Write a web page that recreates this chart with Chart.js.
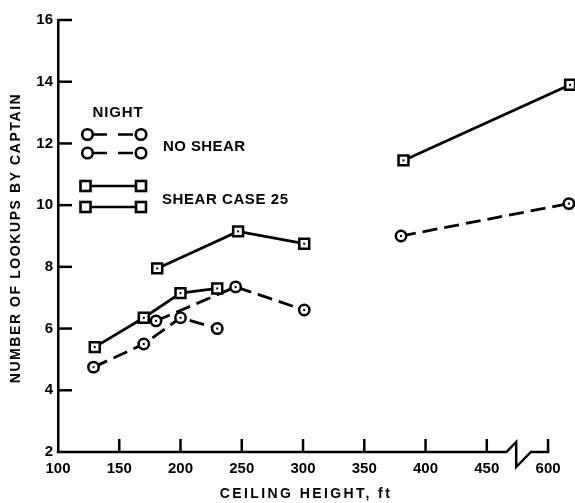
<!DOCTYPE html>
<html>
<head>
<meta charset="utf-8">
<script src="https://cdn.jsdelivr.net/npm/chart.js@4.4.0/dist/chart.umd.min.js"></script>
<style>
  html, body { margin: 0; padding: 0; background: #fff; }
  canvas { display: block; }
</style>
</head>
<body>
<canvas id="lookups-chart" width="575" height="503"></canvas>
<script>
// ceiling height (ft) / number of lookups
const shearLowCeiling = [130, 170, 200, 230];
const shearLowLookups = [5.4, 6.35, 7.15, 7.3];
const shearMidCeiling = [181, 247, 301];
const shearMidLookups = [7.95, 9.15, 8.75];
const shearHighCeiling = [382, 618];
const shearHighLookups = [11.45, 13.9];

const noShearLowCeiling = [129, 170, 200, 230];
const noShearLowLookups = [4.75, 5.5, 6.35, 6.0];
const noShearMidCeiling = [180, 245, 301];
const noShearMidLookups = [6.25, 7.35, 6.6];
const noShearHighCeiling = [380, 617];
const noShearHighLookups = [9.0, 10.05];

const xTickValues = [100, 150, 200, 250, 300, 350, 400, 450, 600];
const yTickValues = [2, 4, 6, 8, 10, 12, 14, 16];

// x axis is broken between 450 and 600
const BREAK_FROM = 450;
const BREAK_SKIP = 100;
function toAxis(x) { return x > BREAK_FROM ? x - BREAK_SKIP : x; }
function points(xs, ys) { return xs.map((x, i) => ({ x: toAxis(x), y: ys[i] })); }

const FONT = "'Liberation Sans', Arial, Helvetica, sans-serif";

function shearSet(xs, ys) {
    return {
        data: points(xs, ys),
        showLine: true,
        borderColor: '#000',
        borderWidth: 2.8,
        pointStyle: 'rect',
        pointRadius: 7,
        pointBorderWidth: 2.5,
        pointBackgroundColor: '#fff',
        pointBorderColor: '#000',
        clip: false
    };
}

function noShearSet(xs, ys) {
    return {
        data: points(xs, ys),
        showLine: true,
        borderColor: '#000',
        borderWidth: 2.8,
        borderDash: [15, 7],
        pointStyle: 'circle',
        pointRadius: 5.2,
        pointBorderWidth: 2.5,
        pointBackgroundColor: '#fff',
        pointBorderColor: '#000',
        clip: false
    };
}

function spacedText(ctx, text, x, y, width) {
    ctx.letterSpacing = '0px';
    const plain = ctx.measureText(text).width;
    const gap = text.length > 1 ? (width - plain) / (text.length - 1) : 0;
    ctx.letterSpacing = gap + 'px';
    ctx.fillText(text, x, y);
    ctx.letterSpacing = '0px';
}

const figureDecor = {
    id: 'figureDecor',
    beforeDatasetsDraw(chart) {
        const ctx = chart.ctx;
        const xs = chart.scales.x;
        const ys = chart.scales.y;
        const area = chart.chartArea;
        const axisEnd = xs.getPixelForValue(toAxis(xTickValues[xTickValues.length - 1]));
        ctx.save();
        ctx.strokeStyle = '#000';
        ctx.lineWidth = 2.5;

        // inward tick marks
        yTickValues.forEach(v => {
            if (v === ys.min) return;
            const py = ys.getPixelForValue(v);
            ctx.beginPath();
            ctx.moveTo(area.left, py);
            ctx.lineTo(area.left + 14, py);
            ctx.stroke();
        });
        xTickValues.forEach(v => {
            if (v === xs.min) return;
            const px = xs.getPixelForValue(toAxis(v));
            ctx.beginPath();
            ctx.moveTo(px, area.bottom);
            ctx.lineTo(px, area.bottom - 13);
            ctx.stroke();
        });

        // bottom axis with the break symbol
        const b = area.bottom;
        ctx.beginPath();
        ctx.moveTo(area.left - 1.25, b);
        ctx.lineTo(xs.getPixelForValue(466), b);
        ctx.lineTo(xs.getPixelForValue(474), b - 10);
        ctx.lineTo(xs.getPixelForValue(474), b + 15);
        ctx.lineTo(xs.getPixelForValue(486), b);
        ctx.lineTo(axisEnd + 1.25, b);
        ctx.stroke();
        ctx.restore();
    },
    afterDatasetsDraw(chart) {
        const ctx = chart.ctx;
        ctx.save();
        ctx.fillStyle = '#000';
        // centre dots in the symbols
        chart.data.datasets.forEach((ds, i) => {
            chart.getDatasetMeta(i).data.forEach(pt => {
                ctx.fillRect(pt.x - 1, pt.y - 1, 2, 2);
            });
        });

        // axis titles
        ctx.font = 'bold 14px ' + FONT;
        ctx.textAlign = 'center';
        ctx.textBaseline = 'middle';
        spacedText(ctx, 'CEILING HEIGHT, ft', 306, 494, 170);
        ctx.save();
        ctx.translate(16, 238);
        ctx.rotate(-Math.PI / 2);
        spacedText(ctx, 'NUMBER OF LOOKUPS BY CAPTAIN', 0, 0, 289);
        ctx.restore();

        // legend
        ctx.font = 'bold 15px ' + FONT;
        ctx.textAlign = 'center';
        spacedText(ctx, 'NIGHT', 118, 113, 50);
        ctx.textAlign = 'left';
        spacedText(ctx, 'NO SHEAR', 163, 147, 82);
        spacedText(ctx, 'SHEAR CASE 25', 162, 200, 126);

        ctx.strokeStyle = '#000';
        ctx.lineWidth = 2.6;
        [134.5, 153].forEach(ry => {
            ctx.setLineDash([15, 11]);
            ctx.beginPath();
            ctx.moveTo(92, ry);
            ctx.lineTo(136, ry);
            ctx.stroke();
            ctx.setLineDash([]);
            [87.5, 141].forEach(cx => {
                ctx.beginPath();
                ctx.arc(cx, ry, 5.3, 0, Math.PI * 2);
                ctx.fillStyle = '#fff';
                ctx.fill();
                ctx.stroke();
            });
        });
        [186, 207].forEach(ry => {
            ctx.beginPath();
            ctx.moveTo(90, ry);
            ctx.lineTo(136, ry);
            ctx.stroke();
            [85.5, 141].forEach(cx => {
                ctx.fillStyle = '#fff';
                ctx.fillRect(cx - 5, ry - 5, 10, 10);
                ctx.strokeRect(cx - 5, ry - 5, 10, 10);
            });
        });
        ctx.restore();
    }
};

new Chart(document.getElementById('lookups-chart').getContext('2d'), {
    type: 'scatter',
    data: {
        datasets: [
            shearSet(shearLowCeiling, shearLowLookups),
            shearSet(shearMidCeiling, shearMidLookups),
            shearSet(shearHighCeiling, shearHighLookups),
            noShearSet(noShearLowCeiling, noShearLowLookups),
            noShearSet(noShearMidCeiling, noShearMidLookups),
            noShearSet(noShearHighCeiling, noShearHighLookups)
        ]
    },
    options: {
        responsive: false,
        devicePixelRatio: 1,
        animation: false,
        layout: {
            autoPadding: false,
            padding: { left: 0, right: 0, top: 20, bottom: 0 }
        },
        scales: {
            x: {
                type: 'linear',
                min: 100,
                max: 522,
                afterBuildTicks(scale) {
                    scale.ticks = xTickValues.map(v => ({ value: toAxis(v) }));
                },
                afterFit(scale) {
                    scale.height = 51;
                    scale.paddingLeft = 0;
                    scale.paddingRight = 0;
                },
                grid: { display: false, drawTicks: false },
                border: { display: false },
                ticks: {
                    padding: 8,
                    maxRotation: 0,
                    autoSkip: false,
                    color: '#000',
                    font: { family: FONT, size: 15, weight: 'bold' },
                    callback: function(value) {
                        const real = xTickValues.find(v => toAxis(v) === value);
                        return real === undefined ? '' : String(real);
                    }
                }
            },
            y: {
                min: 2,
                max: 16,
                afterBuildTicks(scale) {
                    scale.ticks = yTickValues.map(v => ({ value: v }));
                },
                afterFit(scale) {
                    scale.width = 58;
                    scale.paddingTop = 0;
                    scale.paddingBottom = 0;
                },
                grid: { display: false, drawTicks: false },
                border: { display: true, color: '#000', width: 2.5 },
                ticks: {
                    padding: 5,
                    color: '#000',
                    font: { family: FONT, size: 15, weight: 'bold' }
                }
            }
        },
        plugins: {
            legend: { display: false },
            tooltip: { enabled: false }
        }
    },
    plugins: [figureDecor]
});
</script>
</body>
</html>
